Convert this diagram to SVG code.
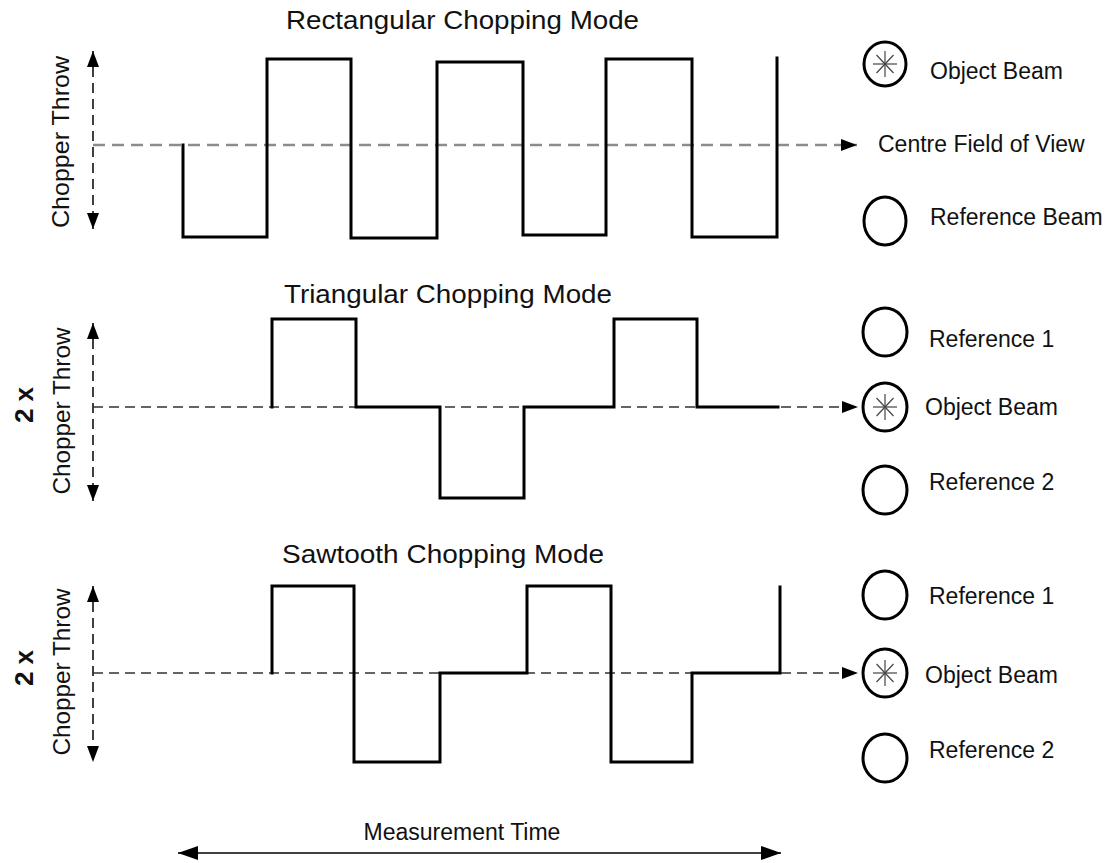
<svg xmlns="http://www.w3.org/2000/svg" width="1108" height="863" viewBox="0 0 1108 863">
<style>
.t{font-family:"Liberation Sans",Arial,Helvetica,sans-serif;fill:#111;}
.title{font-size:26px;}
.lab{font-size:23px;}
.ax{font-size:24px;}
.two{font-size:26px;font-weight:bold;}
.wave{fill:none;stroke:#000;stroke-width:3;stroke-linejoin:miter;stroke-linecap:square;}
.vdash{fill:none;stroke:#000;stroke-width:1.5;stroke-dasharray:10 6;}
.hgray{fill:none;stroke:#8c8c8c;stroke-width:2.5;stroke-dasharray:12 7;}
.hdash{fill:none;stroke:#333;stroke-width:1.5;stroke-dasharray:10 6;}
.beam{fill:#fff;stroke:#000;stroke-width:3;}
.star{stroke:#444;stroke-width:1.2;}
.solid{fill:none;stroke:#000;stroke-width:1.6;}
</style>
<defs>
<marker id="ah" markerUnits="userSpaceOnUse" markerWidth="16" markerHeight="12" viewBox="0 0 16 12" refX="16" refY="6" orient="auto-start-reverse">
<path d="M0,0 L16,6 L0,12 z" fill="#000"/>
</marker>
<marker id="ah2" markerUnits="userSpaceOnUse" markerWidth="20" markerHeight="14" viewBox="0 0 20 14" refX="20" refY="7" orient="auto-start-reverse">
<path d="M0,0 L20,7 L0,14 z" fill="#000"/>
</marker>
<g id="starshape">
<line class="star" x1="0" y1="-13" x2="0" y2="13"/>
<line class="star" x1="-12" y1="0" x2="12" y2="0"/>
<line class="star" x1="-8.5" y1="-9" x2="8.5" y2="9"/>
<line class="star" x1="-8.5" y1="9" x2="8.5" y2="-9"/>
</g>
</defs>
<rect width="1108" height="863" fill="#fff"/>

<g id="connectors">
<!-- top section axes -->
<line class="vdash" x1="93" y1="51" x2="93" y2="229" marker-start="url(#ah)" marker-end="url(#ah)"/>
<line class="hgray" x1="93" y1="145" x2="857" y2="145" marker-end="url(#ah)"/>
<!-- middle section axes -->
<line class="vdash" x1="93" y1="323" x2="93" y2="501" marker-start="url(#ah)" marker-end="url(#ah)"/>
<line class="hdash" x1="93" y1="407" x2="858" y2="407" marker-end="url(#ah)"/>
<!-- bottom section axes -->
<line class="vdash" x1="93" y1="586" x2="93" y2="762" marker-start="url(#ah)" marker-end="url(#ah)"/>
<line class="hdash" x1="93" y1="673" x2="858" y2="673" marker-end="url(#ah)"/>
<!-- measurement time -->
<line class="solid" x1="178" y1="853" x2="781" y2="853" marker-start="url(#ah2)" marker-end="url(#ah2)"/>
</g>

<g id="wave-rect">
<path class="wave" d="M183,145 V237 H267 V59 H351 V238 H437 V62 H523 V235 H606 V59 H692 V237 H777 V58"/>
</g>
<g id="wave-tri">
<path class="wave" d="M272,407 V319 H356 V407 H440 V498 H524 V407 H614 V319 H697 V407 H778"/>
</g>
<g id="wave-saw">
<path class="wave" d="M272,673 V586 H354 V762 H440 V673 H527 V586 H611 V762 H692 V673 H780 V587"/>
</g>

<g id="title-rect"><text class="t title" x="286" y="29" textLength="353" lengthAdjust="spacingAndGlyphs">Rectangular Chopping Mode</text></g>
<g id="title-tri"><text class="t title" x="284" y="303" textLength="328" lengthAdjust="spacingAndGlyphs">Triangular Chopping Mode</text></g>
<g id="title-saw"><text class="t title" x="282" y="563" textLength="322" lengthAdjust="spacingAndGlyphs">Sawtooth Chopping Mode</text></g>

<g id="axis-label-top"><text class="t ax" transform="translate(69,142) rotate(-90)" text-anchor="middle" textLength="172" lengthAdjust="spacingAndGlyphs">Chopper Throw</text></g>
<g id="axis-label-mid">
<text class="t ax" transform="translate(70,411) rotate(-90)" text-anchor="middle" textLength="167" lengthAdjust="spacingAndGlyphs">Chopper Throw</text>
<text class="t two" transform="translate(33,405) rotate(-90)" text-anchor="middle">2 x</text>
</g>
<g id="axis-label-bot">
<text class="t ax" transform="translate(70,672) rotate(-90)" text-anchor="middle" textLength="167" lengthAdjust="spacingAndGlyphs">Chopper Throw</text>
<text class="t two" transform="translate(33,668) rotate(-90)" text-anchor="middle">2 x</text>
</g>

<g id="top-object-beam">
<ellipse class="beam" cx="885" cy="64" rx="21" ry="22"/>
<use href="#starshape" x="885" y="64"/>
<text class="t lab" x="930" y="79">Object Beam</text>
</g>
<g id="top-centre"><text class="t lab" x="878" y="152">Centre Field of View</text></g>
<g id="top-reference-beam">
<ellipse class="beam" cx="885" cy="221" rx="21" ry="24"/>
<text class="t lab" x="930" y="225">Reference Beam</text>
</g>

<g id="mid-reference-1">
<ellipse class="beam" cx="885" cy="332" rx="22" ry="24"/>
<text class="t lab" x="929" y="347">Reference 1</text>
</g>
<g id="mid-object-beam">
<ellipse class="beam" cx="885" cy="407" rx="22" ry="24"/>
<use href="#starshape" x="885" y="407"/>
<text class="t lab" x="925" y="415">Object Beam</text>
</g>
<g id="mid-reference-2">
<ellipse class="beam" cx="885" cy="490" rx="22" ry="24"/>
<text class="t lab" x="929" y="490">Reference 2</text>
</g>

<g id="bot-reference-1">
<ellipse class="beam" cx="885" cy="595" rx="22" ry="24"/>
<text class="t lab" x="929" y="604">Reference 1</text>
</g>
<g id="bot-object-beam">
<ellipse class="beam" cx="885" cy="673" rx="22" ry="24"/>
<use href="#starshape" x="885" y="673"/>
<text class="t lab" x="925" y="683">Object Beam</text>
</g>
<g id="bot-reference-2">
<ellipse class="beam" cx="885" cy="758" rx="22" ry="24"/>
<text class="t lab" x="929" y="758">Reference 2</text>
</g>

<g id="measurement-time"><text class="t lab" x="462" y="840" text-anchor="middle">Measurement Time</text></g>
</svg>
